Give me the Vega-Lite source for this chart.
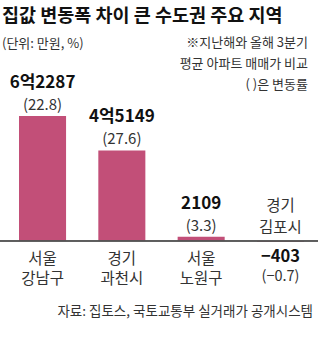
{
  "$schema": "https://vega.github.io/schema/vega-lite/v6.json",
  "width": 318,
  "height": 280,
  "autosize": "none",
  "padding": {"left": 0, "right": 0, "top": 70, "bottom": 0},
  "background": "white",
  "config": {"view": {"stroke": null}, "font": "Noto Sans CJK KR"},
  "title": {
    "text": "집값 변동폭 차이 큰 수도권 주요 지역",
    "subtitle": "(단위: 만원, %)",
    "anchor": "start",
    "frame": "group",
    "font": "Noto Sans CJK KR",
    "fontSize": 18.5,
    "fontWeight": "bold",
    "color": "#111",
    "subtitleFont": "Noto Sans CJK KR",
    "subtitleFontSize": 13,
    "subtitleColor": "#333",
    "subtitlePadding": 13,
    "offset": -14,
    "dx": 2
  },
  "data": {
    "values": [
      {"region": "서울 강남구", "label": "서울\n강남구", "value": 62287, "valueLabel": "6억2287", "pctLabel": "(22.8)"},
      {"region": "경기 과천시", "label": "경기\n과천시", "value": 45149, "valueLabel": "4억5149", "pctLabel": "(27.6)"},
      {"region": "서울 노원구", "label": "서울\n노원구", "value": 2109, "valueLabel": "2109", "pctLabel": "(3.3)"},
      {"region": "경기 김포시", "label": "경기\n김포시", "value": -403, "valueLabel": "−403", "pctLabel": "(−0.7)"}
    ]
  },
  "encoding": {
    "x": {
      "field": "region", "type": "nominal", "sort": null, "axis": null,
      "scale": {"range": [19, 304], "paddingInner": 0.407, "paddingOuter": 0}
    }
  },
  "layer": [
    {
      "mark": {"type": "bar", "color": "#c24f78"},
      "encoding": {
        "y": {"field": "value", "type": "quantitative", "axis": null,
              "scale": {"domain": [-54315, 85209], "nice": false, "zero": false}}
      }
    },
    {
      "mark": {"type": "rule", "color": "#555", "strokeWidth": 1},
      "encoding": {"y": {"datum": 0, "type": "quantitative"}, "x": null}
    },
    {
      "transform": [{"filter": "datum.value > 0"}],
      "mark": {"type": "text", "fontSize": 17, "fontWeight": "bold", "color": "#111", "baseline": "middle", "dy": -33},
      "encoding": {"y": {"field": "value", "type": "quantitative"}, "text": {"field": "valueLabel"}}
    },
    {
      "transform": [{"filter": "datum.value > 0"}],
      "mark": {"type": "text", "fontSize": 15, "color": "#333", "baseline": "middle", "dy": -11},
      "encoding": {"y": {"field": "value", "type": "quantitative"}, "text": {"field": "pctLabel"}}
    },
    {
      "transform": [{"filter": "datum.value > 0"}],
      "mark": {"type": "text", "fontSize": 15.5, "color": "#333", "baseline": "middle", "lineBreak": "\n", "lineHeight": 20, "dy": 18},
      "encoding": {"y": {"datum": 0, "type": "quantitative"}, "text": {"field": "label"}}
    },
    {
      "transform": [{"filter": "datum.value < 0"}],
      "mark": {"type": "text", "fontSize": 16.5, "fontWeight": "bold", "color": "#111", "baseline": "middle", "dy": 16},
      "encoding": {"y": {"datum": 0, "type": "quantitative"}, "text": {"field": "valueLabel"}}
    },
    {
      "transform": [{"filter": "datum.value < 0"}],
      "mark": {"type": "text", "fontSize": 14.5, "color": "#333", "baseline": "middle", "dy": 36},
      "encoding": {"y": {"datum": 0, "type": "quantitative"}, "text": {"field": "pctLabel"}}
    },
    {
      "transform": [{"filter": "datum.value < 0"}],
      "mark": {"type": "text", "fontSize": 15.5, "color": "#333", "baseline": "middle", "lineBreak": "\n", "lineHeight": 22, "dy": -35},
      "encoding": {"y": {"datum": 0, "type": "quantitative"}, "text": {"field": "label"}}
    },
    {
      "data": {"values": [{"note": "※지난해와 올해 3분기\n평균 아파트 매매가 비교\n( )은 변동률"}]},
      "mark": {"type": "text", "fontSize": 13, "color": "#333", "align": "right", "baseline": "middle", "lineBreak": "\n", "lineHeight": 21, "dx": 4},
      "encoding": {
        "x": {"datum": "경기 김포시", "type": "nominal", "bandPosition": 1},
        "y": {"datum": 98663, "type": "quantitative"},
        "text": {"field": "note"}
      }
    },
    {
      "data": {"values": [{"source": "자료: 집토스, 국토교통부 실거래가 공개시스템"}]},
      "mark": {"type": "text", "fontSize": 13.5, "color": "#333", "align": "right", "baseline": "middle", "dx": 9, "dy": 2},
      "encoding": {
        "x": {"datum": "경기 김포시", "type": "nominal", "bandPosition": 1},
        "y": {"datum": -34383, "type": "quantitative"},
        "text": {"field": "source"}
      }
    }
  ]
}
